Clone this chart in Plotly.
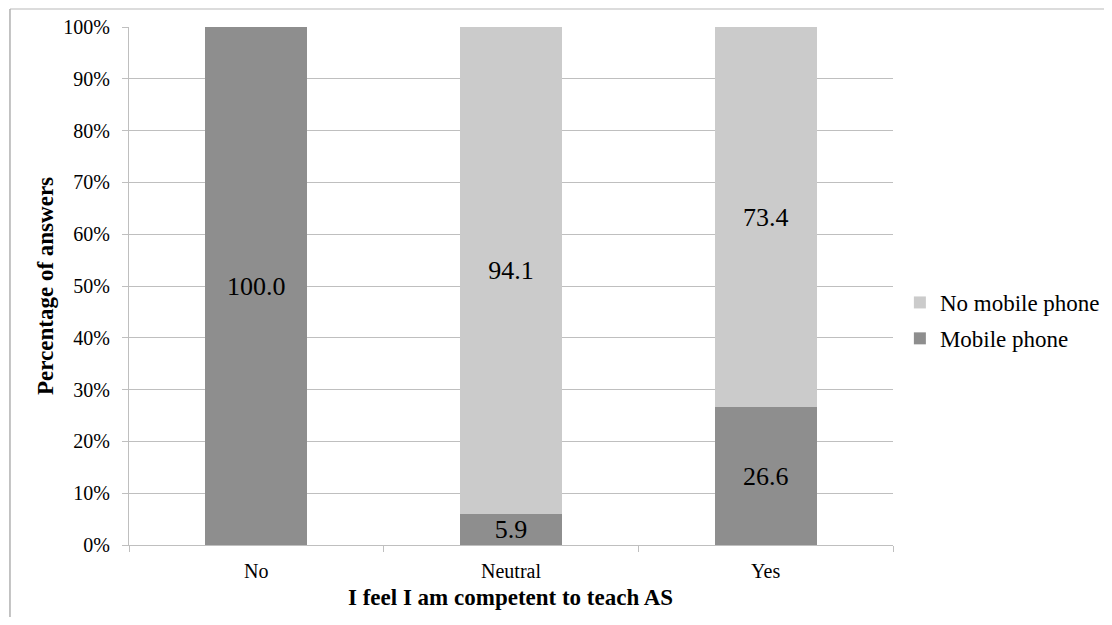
import plotly.graph_objects as go

categories = ["No", "Neutral", "Yes"]
mobile_phone = [100.0, 5.9, 26.6]
no_mobile_phone = [0.0, 94.1, 73.4]
no_mobile_labels = ["", "94.1", "73.4"]
mobile_labels = ["100.0", "5.9", "26.6"]
y_ticks = [0, 10, 20, 30, 40, 50, 60, 70, 80, 90, 100]
y_tick_labels = [f"{v}%" for v in y_ticks]

FONT = "Liberation Serif"
DARK = "#8e8e8e"
LIGHT = "#cbcbcb"
GRID = "#bfbfbf"

bar_font = dict(family=FONT, size=26, color="black")

fig = go.Figure()
fig.add_trace(go.Bar(
    x=categories, y=mobile_phone, name="Mobile phone",
    marker=dict(color=DARK, line=dict(width=0)),
    text=mobile_labels, textposition="inside", insidetextanchor="middle",
    textfont=bar_font, insidetextfont=bar_font,
    legendgroup="a", legendrank=2, hoverinfo="skip",
))
fig.add_trace(go.Bar(
    x=categories, y=no_mobile_phone, name="No mobile phone",
    marker=dict(color=LIGHT, line=dict(width=0)),
    text=no_mobile_labels, textposition="inside", insidetextanchor="middle",
    textfont=bar_font, insidetextfont=bar_font,
    legendgroup="b", legendrank=1, hoverinfo="skip",
))

fig.update_layout(
    width=1096, height=609,
    barmode="stack", bargap=0.6,
    paper_bgcolor="white", plot_bgcolor="white",
    margin=dict(l=121, r=211, t=19, b=72, autoexpand=False),
    font=dict(family=FONT, color="black"),
    uniformtext=dict(minsize=26, mode="show"),
    showlegend=True,
    legend=dict(
        x=1.009, y=0.4334, xanchor="left", yanchor="middle",
        traceorder="grouped", tracegroupgap=3,
        font=dict(family=FONT, size=23, color="black"),
        itemwidth=30, bgcolor="rgba(0,0,0,0)",
    ),
    xaxis=dict(
        range=[-0.5, 2.5], tickson="boundaries", automargin=False,
        showline=True, linecolor=GRID, linewidth=1,
        ticks="outside", ticklen=6, tickcolor=GRID,
        ticklabelstandoff=8,
        showgrid=False, tickfont=dict(family=FONT, size=20, color="black"),
    ),
    yaxis=dict(
        range=[0, 100], tickvals=y_ticks, ticktext=y_tick_labels,
        automargin=False,
        showline=True, linecolor=GRID, linewidth=1,
        ticks="outside", ticklen=6, tickcolor=GRID,
        ticklabelstandoff=8,
        showgrid=True, gridcolor=GRID, gridwidth=1,
        tickfont=dict(family=FONT, size=20, color="black"),
        zeroline=False,
    ),
    annotations=[
        dict(text="<b>Percentage of answers</b>", textangle=-90,
             xref="paper", yref="paper", x=-0.110, y=0.5,
             xanchor="center", yanchor="middle", showarrow=False,
             font=dict(family=FONT, size=23, color="black")),
        dict(text="<b>I feel I am competent to teach AS</b>",
             xref="paper", yref="paper", x=0.4987, y=-0.102,
             xanchor="center", yanchor="middle", showarrow=False,
             font=dict(family=FONT, size=23, color="black")),
    ],
    shapes=[
        dict(type="line", xref="paper", yref="paper",
             x0=-0.1558, x1=1.3, y0=1.0347, y1=1.0347,
             line=dict(color="#d0d0d0", width=1.5)),
        dict(type="line", xref="paper", yref="paper",
             x0=-0.1558, x1=-0.1558, y0=1.0347, y1=-0.2,
             line=dict(color="#b0b0b0", width=1.5)),
    ],
)

fig.write_html("out.html")
